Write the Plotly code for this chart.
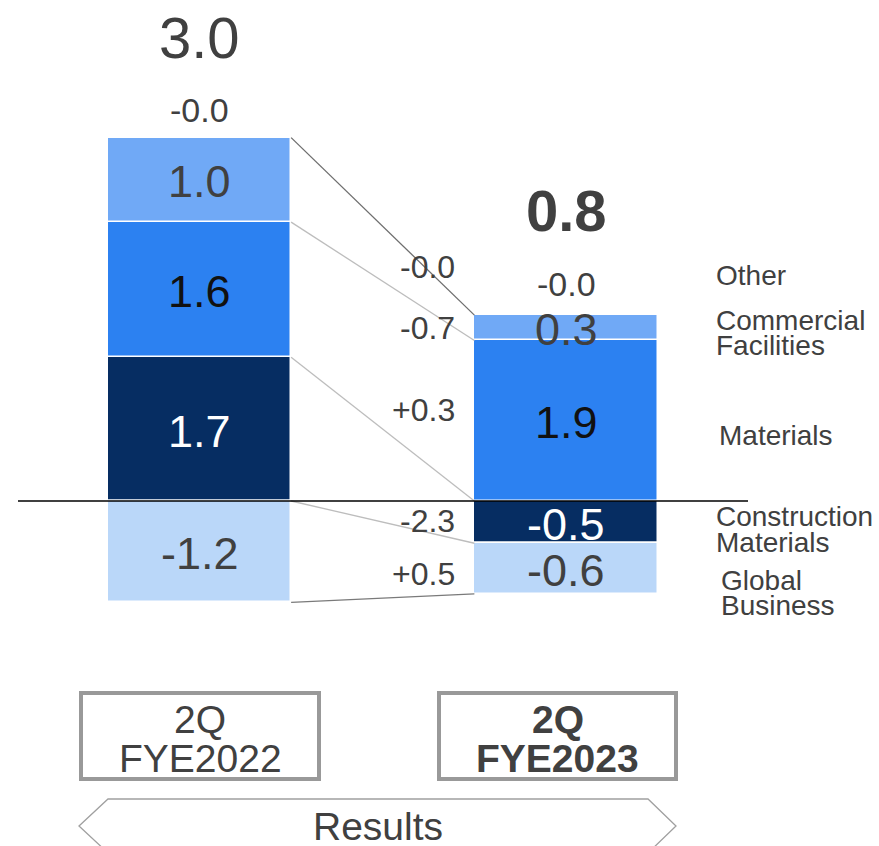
import plotly.graph_objects as go

# ---------------- data ----------------
periods = ["2Q FYE2022", "2Q FYE2023"]
segments = ["Construction Materials", "Global Business", "Materials", "Commercial Facilities"]
construction = [1.7, -0.5]
global_biz = [-1.2, -0.6]
materials = [1.6, 1.9]
commercial = [1.0, 0.3]
other = ["-0.0", "-0.0"]
totals = ["3.0", "0.8"]
seg_labels = {
    "Construction Materials": ["1.7", "-0.5"],
    "Global Business": ["-1.2", "-0.6"],
    "Materials": ["1.6", "1.9"],
    "Commercial Facilities": ["1.0", "0.3"],
}
delta_labels = ["-0.0", "-0.7", "+0.3", "-2.3", "+0.5"]  # Other, Commercial, Materials, Construction, Global
legend_lines = [["Other"], ["Commercial", "Facilities"], ["Materials"],
                ["Construction", "Materials"], ["Global", "Business"]]

values = {
    "Construction Materials": construction,
    "Global Business": global_biz,
    "Materials": materials,
    "Commercial Facilities": commercial,
}
colors = {
    "Construction Materials": "#062D62",
    "Global Business": "#BAD7F9",
    "Materials": "#2C81F1",
    "Commercial Facilities": "#70A9F6",
}
label_colors = {
    "Construction Materials": "#FFFFFF",
    "Global Business": "#404040",
    "Materials": "#111111",
    "Commercial Facilities": "#404040",
}

W, H = 879, 846
FONT = "Arial, 'Liberation Sans', sans-serif"
TXT = "#404040"

def px(x):
    return x / W

def py(y):
    return 1 - y / H

xpos = [0, 1]
fig = go.Figure()

# stacked bars
for s in segments:
    fig.add_trace(go.Bar(
        x=xpos, y=values[s], width=0.5, name=s,
        marker=dict(color=colors[s], line=dict(color="white", width=1.5)),
        hoverinfo="skip", showlegend=False,
    ))

# segment label positions (relative stacking)
annotations = []
bounds = []
for i in range(2):
    pos, neg = 0.0, 0.0
    b = {}
    for s in segments:
        v = values[s][i]
        if v >= 0:
            lo, hi = pos, pos + v
            pos = hi
        else:
            hi, lo = neg, neg + v
            neg = lo
        b[s] = (lo, hi)
        annotations.append(dict(
            x=xpos[i], y=(lo + hi) / 2, xref="x", yref="y",
            text=seg_labels[s][i], showarrow=False, yshift=-2,
            font=dict(family=FONT, size=45, color=label_colors[s]),
            xanchor="center", yanchor="middle",
        ))
    bounds.append((pos, b))

# connecting lines between bars
L = bounds[0]
R = bounds[1]
left_b = [L[0], L[1]["Materials"][1], L[1]["Construction Materials"][1], 0.0, L[1]["Global Business"][0]]
right_b = [R[0], R[1]["Materials"][1], R[1]["Materials"][0], R[1]["Construction Materials"][0], R[1]["Global Business"][0]]
line_colors = ["#6E6E6E", "#BDBDBD", "#BDBDBD", "#BDBDBD", "#7A7A7A"]
for lb, rb, c in zip(left_b, right_b, line_colors):
    fig.add_trace(go.Scatter(
        x=[xpos[0] + 0.25, xpos[1] - 0.25], y=[lb, rb], mode="lines",
        line=dict(color=c, width=1.3), hoverinfo="skip", showlegend=False,
    ))

# totals and "Other" values above bars
annotations.append(dict(x=xpos[0], y=py(38), xref="x", yref="paper", text=totals[0],
                        showarrow=False, yanchor="middle",
                        font=dict(family=FONT, size=58, color=TXT)))
annotations.append(dict(x=xpos[0], y=py(110), xref="x", yref="paper", text=other[0],
                        showarrow=False, yanchor="middle",
                        font=dict(family=FONT, size=34, color=TXT)))
annotations.append(dict(x=xpos[1], y=py(210), xref="x", yref="paper", text="<b>" + totals[1] + "</b>",
                        showarrow=False, yanchor="middle",
                        font=dict(family=FONT, size=58, color=TXT)))
annotations.append(dict(x=xpos[1], y=py(284), xref="x", yref="paper", text=other[1],
                        showarrow=False, yanchor="middle",
                        font=dict(family=FONT, size=34, color=TXT)))

# delta labels (right-aligned between bars)
delta_y = [267, 328, 410, 521, 574]
for t, yy in zip(delta_labels, delta_y):
    annotations.append(dict(x=px(457), y=py(yy), xref="paper", yref="paper", text=t,
                            showarrow=False, xanchor="right", yanchor="middle",
                            font=dict(family=FONT, size=32, color=TXT)))

# right-hand segment names
legend_pos = [(714, [275]), (714, [320, 345]), (717, [435]), (714, [516, 542]), (719, [580, 605])]
for lines, (lx, ys) in zip(legend_lines, legend_pos):
    for t, yy in zip(lines, ys):
        annotations.append(dict(x=px(lx), y=py(yy), xref="paper", yref="paper", text=t,
                                showarrow=False, xanchor="left", yanchor="middle",
                                font=dict(family=FONT, size=28, color=TXT)))

# period boxes
shapes = []
box_x = [(81, 319), (439, 676)]
for (x0, x1) in box_x:
    shapes.append(dict(type="rect", xref="paper", yref="paper",
                       x0=px(x0), x1=px(x1), y0=py(693), y1=py(779),
                       line=dict(color="#999999", width=4), fillcolor="rgba(0,0,0,0)"))
for i, p in enumerate(periods):
    q, fy = p.split(" ")
    bold = i == 1
    cx = (box_x[i][0] + box_x[i][1]) / 2
    for t, yy in zip([q, fy], [719, 758]):
        annotations.append(dict(x=px(cx), y=py(yy), xref="paper", yref="paper",
                                text=("<b>%s</b>" % t) if bold else t, showarrow=False,
                                xanchor="center", yanchor="middle",
                                font=dict(family=FONT, size=39, color=TXT)))

# "Results" arrow band
path = "M {a},{b} L {c},{d} L {e},{d} L {f},{b} L {e},{g} L {c},{g} Z".format(
    a=px(79), b=py(826), c=px(108), d=py(799), e=px(648), f=px(676), g=py(853))
shapes.append(dict(type="path", xref="paper", yref="paper", path=path,
                   line=dict(color="#A0A0A0", width=1.3), fillcolor="rgba(0,0,0,0)"))
annotations.append(dict(x=px(378), y=py(826), xref="paper", yref="paper", text="Results",
                        showarrow=False, xanchor="center", yanchor="middle",
                        font=dict(family=FONT, size=39, color=TXT)))

# zero line
shapes.append(dict(type="line", xref="paper", yref="y", x0=px(18), x1=px(748), y0=0, y1=0,
                   line=dict(color="#000000", width=1.5)))

fig.update_layout(
    width=W, height=H, margin=dict(l=0, r=0, t=0, b=0),
    barmode="relative", bargap=0,
    paper_bgcolor="white", plot_bgcolor="white",
    xaxis=dict(range=[(0 - 199.5) / 366.5, (W - 199.5) / 366.5], visible=False, fixedrange=True),
    yaxis=dict(range=[(501 - H) / 84.5, 501 / 84.5], visible=False, fixedrange=True),
    annotations=annotations, shapes=shapes, showlegend=False,
)

fig.write_html("out.html")
